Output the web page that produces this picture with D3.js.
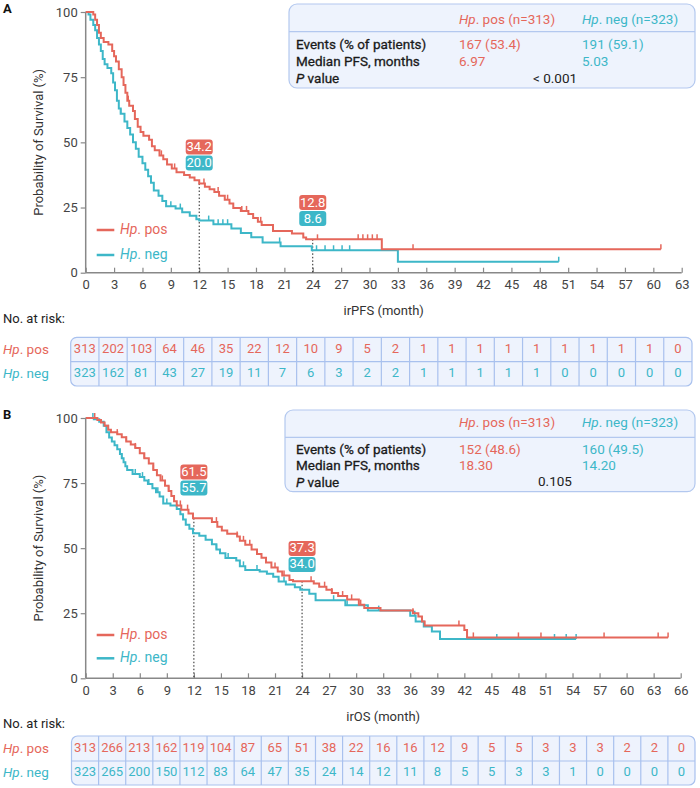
<!DOCTYPE html>
<html>
<head>
<meta charset="utf-8">
<script src="https://cdn.jsdelivr.net/npm/d3@7"></script>
<style>
  body { margin: 0; background: #fff; }
  text { font-family: Roboto, "Open Sans", sans-serif; }
</style>
</head>
<body>
<svg id="chart"></svg>
<script>
const width = 700;
const height = 788;

const colPos = "#e5675b";
const colNeg = "#3db7c8";
const textCol = "#333";

// ---- panel A (irPFS) ----
const ticksA = d3.range(0, 64, 3);
const posStepsA = [[0,100],[0.8,99],[1.0,97],[1.2,95],[1.4,92],[1.6,90],[1.9,88.5],[2.4,87.5],[2.8,85],[3.0,83],[3.2,81],[3.5,78],[3.8,75],[4.0,72],[4.2,69],[4.4,66],[4.6,64],[5.0,62],[5.2,59],[5.5,56],[5.8,54],[6.1,52.5],[6.7,51],[7.0,48.5],[7.3,47],[7.8,45],[8.2,43.5],[8.6,41.5],[9.1,40],[9.6,38.5],[10.4,37.5],[11.0,36.5],[11.5,35.5],[12.0,34.2],[12.6,33],[13.1,32],[13.6,31],[14.1,29.5],[14.7,28],[15.2,26.5],[15.6,24.8],[16.4,23.7],[17.2,22.5],[17.7,21],[18.2,19.5],[18.6,18.3],[19.8,16],[21.8,15],[23.0,13.5],[23.3,12.8],[31.3,9.0],[60.8,9.0]];
const negStepsA = [[0,100],[0.3,99],[0.5,97],[0.8,95],[1.0,93],[1.2,90],[1.4,87.5],[1.6,85],[1.8,82],[2.0,80],[2.3,78.5],[2.7,76.5],[2.9,73],[3.1,70],[3.3,66],[3.5,63],[3.7,61],[4.1,58],[4.4,55.5],[4.7,53],[5.0,50],[5.3,47.5],[5.6,44.5],[6.0,42],[6.3,39.5],[6.6,37],[6.9,34.5],[7.2,31.5],[7.7,29.5],[8.1,27.5],[8.5,25.5],[9.5,24.6],[10.2,23.2],[11.0,21.8],[11.7,20.5],[12.0,20.0],[13.5,18.6],[15.4,17],[16.4,15.2],[17.5,13.6],[18.7,11.6],[20.6,10.1],[23.9,8.6],[33.0,4.2],[50.0,4.2]];
const posCensA = [4.5, 5.0, 8.0, 9.4, 12.5, 14.0, 15.0, 16.5, 17.0, 18.5, 19.8, 24.5, 28.8, 29.3, 29.8, 30.3, 30.8, 34.6, 60.8];
const negCensA = [3.7, 9.0, 10.0, 13.0, 14.0, 14.5, 15.0, 20.5, 24.4, 25.3, 26.2, 27.1, 27.9, 50.0];
const riskPosA = [313,202,103,64,46,35,22,12,10,9,5,2,1,1,1,1,1,1,1,1,1,0];
const riskNegA = [323,162,81,43,27,19,11,7,6,3,2,2,1,1,1,1,1,0,0,0,0,0];
const markMonthsA = [12, 24];
const markPosA = ["34.2", "12.8"];
const markNegA = ["20.0", "8.6"];
const markLabelYA = [48.2, 26.9];
const statsA = {
  rows: ["Events (% of patients)", "Median PFS, months"],
  pos: ["167 (53.4)", "6.97"],
  neg: ["191 (59.1)", "5.03"],
  p: "< 0.001"
};

// ---- panel B (irOS) ----
const ticksB = d3.range(0, 67, 3);
const posStepsB = [[0,100],[1.3,99.2],[1.7,98.3],[2.1,97],[2.5,95.5],[2.8,94.5],[3.5,93.8],[4.0,92.6],[4.5,91],[5.0,89.8],[5.5,88.5],[6.0,86.5],[6.5,84.5],[7.0,82.5],[7.5,80],[7.9,78],[8.3,76],[8.8,74],[9.2,72],[9.5,70],[9.8,68],[10.1,66.4],[10.6,64.8],[11.4,63.3],[11.9,61.5],[14.0,60],[14.6,58.2],[15.1,56.8],[15.7,55.5],[16.8,54.5],[17.1,52.8],[17.7,51.3],[18.4,49.5],[19.0,47.8],[19.5,46.3],[20.0,44.5],[20.6,42.6],[21.3,41],[21.8,39.5],[22.6,37.8],[23.0,37.3],[25.3,36.4],[25.9,35.2],[26.7,34],[27.3,32.8],[28.0,31.6],[29.0,30.3],[30.3,28.3],[30.9,27],[32.7,26],[36.3,25],[36.9,23.7],[37.3,21.8],[37.6,20.3],[42.0,18.6],[42.3,15.7],[64.6,15.7]];
const negStepsB = [[0,100],[0.9,99.5],[1.5,98.6],[2.0,97],[2.3,94.5],[2.6,92.5],[2.9,91],[3.2,89.5],[3.5,88],[3.8,86.2],[4.0,84.5],[4.2,83],[4.4,81.5],[4.6,80],[5.2,78.5],[6.0,77.3],[6.5,76],[6.9,74.6],[7.4,73],[7.8,71.5],[8.2,69.8],[8.6,67.2],[9.4,66.4],[10.1,65],[10.5,63],[10.8,61],[11.1,59],[11.5,57.5],[11.9,55.7],[12.6,54.8],[13.3,53.2],[14.0,51.5],[14.5,49.5],[14.9,48],[15.5,46.2],[16.7,45.3],[17.1,43],[17.7,41.6],[19.3,41],[20.1,40.2],[20.8,39],[21.4,37.2],[22.2,36],[23.2,35],[23.8,34.0],[24.8,32.5],[25.5,30],[28.8,28.1],[31.3,26],[36.0,24],[36.6,21.8],[37.5,19.9],[38.4,18],[39.3,15.1],[54.4,15.1]];
const posCensB = [1.0, 2.5, 3.5, 4.5, 5.5, 6.5, 7.5, 8.5, 9.2, 10.5, 11.3, 14.5, 16.8, 17.5, 18.2, 19.0, 20.0, 21.0, 22.0, 25.0, 26.5, 27.3, 28.5, 29.5, 30.5, 36.3, 41.4, 43.0, 48.0, 50.5, 57.5, 63.5, 64.6];
const negCensB = [0.8, 4.0, 5.5, 6.3, 7.0, 8.0, 9.0, 14.5, 15.8, 17.5, 19.0, 22.0, 27.5, 29.0, 32.5, 36.5, 45.6, 52.0, 53.3, 54.4];
const riskPosB = [313,266,213,162,119,104,87,65,51,38,22,16,16,12,9,5,5,3,3,3,2,2,0];
const riskNegB = [323,265,200,150,112,83,64,47,35,24,14,12,11,8,5,5,3,3,1,0,0,0,0];
const markMonthsB = [12, 24];
const markPosB = ["61.5", "37.3"];
const markNegB = ["55.7", "34.0"];
const markLabelYB = [79.3, 49.9];
const statsB = {
  rows: ["Events (% of patients)", "Median PFS, months"],
  pos: ["152 (48.6)", "18.30"],
  neg: ["160 (49.5)", "14.20"],
  p: "0.105"
};

const svg = d3.select("#chart")
  .attr("width", width)
  .attr("height", height);

function survAt(steps, t) {
  let s = steps[0][1];
  for (const p of steps) {
    if (p[0] <= t) s = p[1];
    else break;
  }
  return s;
}

// italic "Hp." followed by rest
function hpText(sel, rest) {
  sel.append("tspan").attr("font-style", "italic").text("Hp");
  sel.append("tspan").text("." + rest);
}

function drawPanel(p) {
  const g = svg.append("g");
  const x = d3.scaleLinear().domain([0, p.xMax]).range([85.7, p.xRight]);
  const y = d3.scaleLinear().domain([0, 100]).range([p.yBottom, p.yTop]);

  // panel letter
  g.append("text").attr("x", 3).attr("y", p.yTop - 2)
    .attr("font-size", 13).attr("font-weight", 700).attr("fill", "#111")
    .attr("dominant-baseline", "middle").text(p.letter);

  // stats box
  const sb = p.statBox;
  g.append("rect").attr("x", sb.x0).attr("y", sb.y0)
    .attr("width", sb.x1 - sb.x0).attr("height", sb.y1 - sb.y0)
    .attr("rx", 8).attr("fill", "#eef3fd").attr("stroke", "#b3c8ef").attr("stroke-width", 1.2);
  g.append("line").attr("x1", sb.x0).attr("x2", sb.x1)
    .attr("y1", sb.yDiv).attr("y2", sb.yDiv)
    .attr("stroke", "#b3c8ef").attr("stroke-width", 1.2);
  const hdr = g.append("g").attr("font-size", 13.5).attr("dominant-baseline", "middle");
  hpText(hdr.append("text").attr("x", 459).attr("y", sb.yHead).attr("fill", colPos), " pos (n=313)");
  hpText(hdr.append("text").attr("x", 582).attr("y", sb.yHead).attr("fill", colNeg), " neg (n=323)");
  p.stats.rows.forEach((r, i) => {
    g.append("text").attr("x", 296).attr("y", sb.rowY[i]).attr("font-size", 13.5)
      .attr("fill", "#1a1a1a").attr("stroke", "#1a1a1a").attr("stroke-width", 0.3)
      .attr("dominant-baseline", "middle").text(r);
    g.append("text").attr("x", 459).attr("y", sb.rowY[i]).attr("font-size", 13.5)
      .attr("fill", colPos).attr("dominant-baseline", "middle").text(p.stats.pos[i]);
    g.append("text").attr("x", 582).attr("y", sb.rowY[i]).attr("font-size", 13.5)
      .attr("fill", colNeg).attr("dominant-baseline", "middle").text(p.stats.neg[i]);
  });
  const pv = g.append("text").attr("x", 296).attr("y", sb.rowY[2]).attr("font-size", 13.5)
    .attr("fill", "#1a1a1a").attr("stroke", "#1a1a1a").attr("stroke-width", 0.3)
    .attr("dominant-baseline", "middle");
  pv.append("tspan").attr("font-style", "italic").text("P");
  pv.append("tspan").text(" value");
  g.append("text").attr("x", 555).attr("y", sb.rowY[2]).attr("font-size", 13.5)
    .attr("text-anchor", "middle").attr("fill", "#222").attr("dominant-baseline", "middle")
    .text(p.stats.p);

  // axes
  const xAxis = g.append("g").attr("transform", `translate(0,${p.yBottom})`)
    .call(d3.axisBottom(x).tickValues(p.ticks).tickSizeInner(-5).tickSizeOuter(0).tickPadding(7));
  const yAxis = g.append("g").attr("transform", `translate(85.7,0)`)
    .call(d3.axisLeft(y).tickValues([0, 25, 50, 75, 100]).tickSizeInner(5).tickSizeOuter(0).tickPadding(3));
  [xAxis, yAxis].forEach(a => {
    a.select(".domain").attr("stroke", "#888").attr("stroke-width", 1.5);
    a.selectAll(".tick line").attr("stroke", "#888").attr("stroke-width", 1.2);
    a.selectAll(".tick text").attr("font-size", 13).attr("fill", "#444")
      .attr("font-family", "Roboto, sans-serif");
  });
  xAxis.select(".domain").attr("d", `M${x(0)},0H${x(p.xMax)}`);
  yAxis.select(".domain").attr("d", `M0,${y(0)}V${y(100)}`);

  g.append("text").attr("x", (x(0) + x(p.xMax)) / 2).attr("y", p.yBottom + 39)
    .attr("text-anchor", "middle").attr("font-size", 13).attr("fill", textCol)
    .attr("dominant-baseline", "middle").text(p.xTitle);
  g.append("text")
    .attr("transform", `translate(40,${(y(0) + y(100)) / 2}) rotate(-90)`)
    .attr("text-anchor", "middle").attr("font-size", 13).attr("fill", textCol)
    .attr("dominant-baseline", "middle").text("Probability of Survival (%)");

  // dotted reference lines
  p.markMonths.forEach((m, i) => {
    g.append("line").attr("x1", x(m)).attr("x2", x(m))
      .attr("y1", y(+p.markPos[i])).attr("y2", y(0))
      .attr("stroke", "#222").attr("stroke-width", 1).attr("stroke-dasharray", "1.5,2");
  });

  // curves
  const line = d3.line().x(d => x(d[0])).y(d => y(d[1])).curve(d3.curveStepAfter);
  [[p.negSteps, p.negCens, colNeg], [p.posSteps, p.posCens, colPos]].forEach(([steps, cens, col]) => {
    g.append("path").datum(steps).attr("d", line)
      .attr("fill", "none").attr("stroke", col).attr("stroke-width", 2);
    g.selectAll(null).data(cens).enter().append("line")
      .attr("x1", d => x(d)).attr("x2", d => x(d))
      .attr("y1", d => y(survAt(steps, d))).attr("y2", d => y(survAt(steps, d)) - 5)
      .attr("stroke", col).attr("stroke-width", 1.5);
  });

  // value labels
  p.markMonths.forEach((m, i) => {
    const cy = y(p.markLabelY[i]);
    [[p.markPos[i], colPos, cy], [p.markNeg[i], colNeg, cy + 16]].forEach(([t, col, yy]) => {
      g.append("rect").attr("x", x(m) - 13.5).attr("y", yy - 7.5)
        .attr("width", 27).attr("height", 15).attr("rx", 3).attr("fill", col);
      g.append("text").attr("x", x(m)).attr("y", yy + 0.5).attr("text-anchor", "middle")
        .attr("dominant-baseline", "middle").attr("font-size", 13).attr("fill", "#fff").text(t);
    });
  });

  // legend
  [[colPos, " pos", p.legY[0]], [colNeg, " neg", p.legY[1]]].forEach(([col, t, ly]) => {
    g.append("line").attr("x1", 96.7).attr("x2", 114.3).attr("y1", ly).attr("y2", ly)
      .attr("stroke", col).attr("stroke-width", 2.5);
    hpText(g.append("text").attr("x", 120).attr("y", ly).attr("font-size", 14)
      .attr("fill", col).attr("dominant-baseline", "middle"), t);
  });

  // risk table
  const rt = p.risk;
  g.append("text").attr("x", 3).attr("y", rt.titleY).attr("font-size", 13).attr("fill", "#222")
    .attr("dominant-baseline", "middle").text("No. at risk:");
  const band = d3.scaleBand().domain(d3.range(p.riskPos.length)).range([rt.x0, rt.x1]);
  g.append("rect").attr("x", rt.x0).attr("y", rt.y0).attr("width", rt.x1 - rt.x0)
    .attr("height", rt.y1 - rt.y0).attr("rx", 6)
    .attr("fill", "#eef3fd").attr("stroke", "#a9c1ee").attr("stroke-width", 1.2);
  g.append("line").attr("x1", rt.x0).attr("x2", rt.x1).attr("y1", rt.yMid).attr("y2", rt.yMid)
    .attr("stroke", "#a9c1ee").attr("stroke-width", 1.2);
  g.selectAll(null).data(d3.range(1, p.riskPos.length)).enter().append("line")
    .attr("x1", d => band(d)).attr("x2", d => band(d))
    .attr("y1", rt.y0).attr("y2", rt.y1)
    .attr("stroke", "#a9c1ee").attr("stroke-width", 1.2);
  const rowPos = (rt.y0 + rt.yMid) / 2;
  const rowNeg = (rt.yMid + rt.y1) / 2;
  hpText(g.append("text").attr("x", 3).attr("y", rowPos).attr("font-size", 13.5)
    .attr("fill", colPos).attr("dominant-baseline", "middle"), " pos");
  hpText(g.append("text").attr("x", 3).attr("y", rowNeg).attr("font-size", 13.5)
    .attr("fill", colNeg).attr("dominant-baseline", "middle"), " neg");
  [[p.riskPos, colPos, rowPos], [p.riskNeg, colNeg, rowNeg]].forEach(([vals, col, ry]) => {
    g.selectAll(null).data(vals).enter().append("text")
      .attr("x", (d, i) => band(i) + band.bandwidth() / 2).attr("y", ry)
      .attr("text-anchor", "middle").attr("dominant-baseline", "middle")
      .attr("font-size", 13).attr("fill", col).text(d => d);
  });
}

drawPanel({
  letter: "A", xMax: 63, xRight: 681.7, yTop: 12, yBottom: 272.7,
  ticks: ticksA, xTitle: "irPFS (month)",
  posSteps: posStepsA, negSteps: negStepsA, posCens: posCensA, negCens: negCensA,
  riskPos: riskPosA, riskNeg: riskNegA,
  markMonths: markMonthsA, markPos: markPosA, markNeg: markNegA, markLabelY: markLabelYA,
  stats: statsA,
  statBox: { x0: 289, x1: 695, y0: 4, y1: 88, yDiv: 31.7, yHead: 19.5, rowY: [45.7, 62.3, 79] },
  legY: [230, 255],
  risk: { titleY: 320, x0: 70.7, x1: 692, y0: 337.3, yMid: 361.7, y1: 386 }
});

drawPanel({
  letter: "B", xMax: 66, xRight: 680.7, yTop: 418, yBottom: 678.3,
  ticks: ticksB, xTitle: "irOS (month)",
  posSteps: posStepsB, negSteps: negStepsB, posCens: posCensB, negCens: negCensB,
  riskPos: riskPosB, riskNeg: riskNegB,
  markMonths: markMonthsB, markPos: markPosB, markNeg: markNegB, markLabelY: markLabelYB,
  stats: statsB,
  statBox: { x0: 285, x1: 695, y0: 410, y1: 491.7, yDiv: 437.3, yHead: 423.3, rowY: [450, 466.7, 482.7] },
  legY: [635, 658.3],
  risk: { titleY: 725, x0: 71.5, x1: 695, y0: 736, yMid: 761, y1: 785 }
});
</script>
</body>
</html>
